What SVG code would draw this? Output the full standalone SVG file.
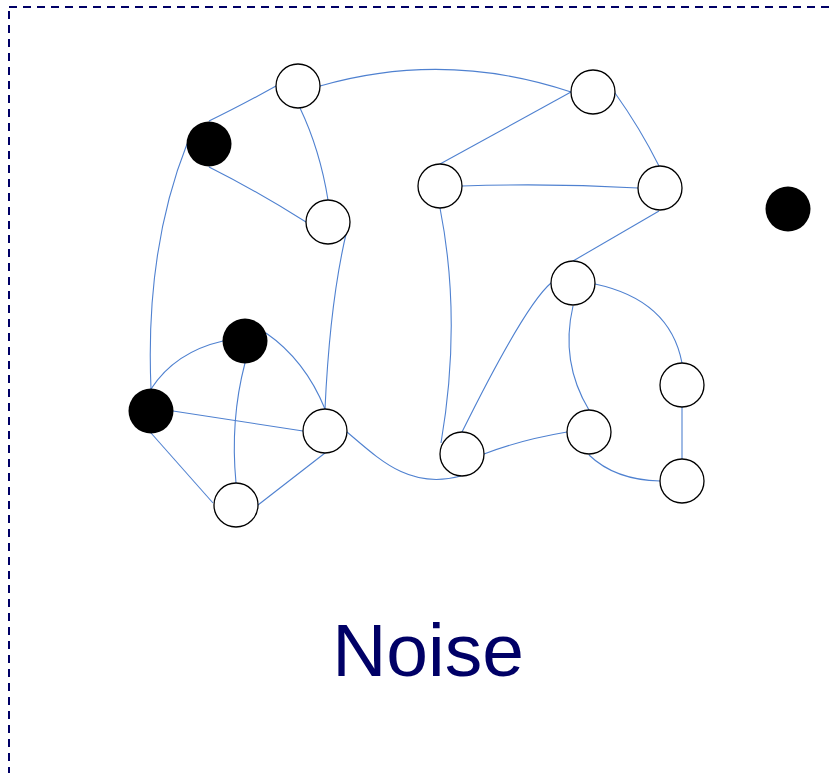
<svg xmlns="http://www.w3.org/2000/svg" width="833" height="773" viewBox="0 0 833 773">
  <style>
    .frame { fill: none; stroke: #000066; stroke-width: 2; stroke-dasharray: 8 6; }
    .edge { fill: none; stroke: #4f81d0; stroke-width: 1.1; }
    .open { fill: #ffffff; stroke: #000000; stroke-width: 1.3; }
    .solid { fill: #000000; stroke: none; }
    .label { font-family: "Liberation Sans", Arial, sans-serif; font-size: 75px; fill: #000066; text-anchor: middle; }
  </style>
  <rect width="833" height="773" fill="#ffffff"/>
  <!-- dashed boundary, open towards the right and bottom edges -->
  <rect class="frame" x="9" y="7" width="840" height="790"/>

  <g id="connectors">
    <path class="edge" d="M209,121 Q240,106 276,86"/>
    <path class="edge" d="M300,108 Q320,150 328,200"/>
    <path class="edge" d="M320,86 Q445,50 571,92"/>
    <path class="edge" d="M209,167 Q255,190 306,222"/>
    <path class="edge" d="M187,144 Q145,250 151,389"/>
    <path class="edge" d="M347,230 Q330,300 325,409"/>
    <path class="edge" d="M440,164 L571,92"/>
    <path class="edge" d="M462,186 Q550,183 638,188"/>
    <path class="edge" d="M440,208 Q462,320 441,443"/>
    <path class="edge" d="M615,93 Q640,128 659,166"/>
    <path class="edge" d="M659,211 L573,261"/>
    <path class="edge" d="M551,283 Q525,305 462,432"/>
    <path class="edge" d="M595,284 Q670,300 682,363"/>
    <path class="edge" d="M573,306 Q560,362 589,410"/>
    <path class="edge" d="M682,407 L682,459"/>
    <path class="edge" d="M589,455 Q615,480 660,481"/>
    <path class="edge" d="M567,432 Q520,440 484,454"/>
    <path class="edge" d="M347,432 C380,460 410,490 461,476"/>
    <path class="edge" d="M151,389 Q175,352 223,341"/>
    <path class="edge" d="M266,333 Q305,360 325,409"/>
    <path class="edge" d="M245,363 Q230,420 236,483"/>
    <path class="edge" d="M173,411 L303,431"/>
    <path class="edge" d="M151,433 L213,503"/>
    <path class="edge" d="M325,453 L258,505"/>
  </g>

  <g id="n-a"><circle class="open" cx="298" cy="86" r="22"/></g>
  <g id="n-b"><circle class="solid" cx="209" cy="144" r="22.5"/></g>
  <g id="n-c"><circle class="open" cx="328" cy="222" r="22"/></g>
  <g id="n-d"><circle class="open" cx="440" cy="186" r="22"/></g>
  <g id="n-e"><circle class="open" cx="593" cy="92" r="22"/></g>
  <g id="n-f"><circle class="open" cx="660" cy="188" r="22"/></g>
  <g id="n-g"><circle class="solid" cx="788" cy="209" r="22.5"/></g>
  <g id="n-h"><circle class="open" cx="573" cy="283" r="22"/></g>
  <g id="n-i"><circle class="open" cx="682" cy="385" r="22"/></g>
  <g id="n-j"><circle class="open" cx="589" cy="432" r="22"/></g>
  <g id="n-k"><circle class="open" cx="682" cy="481" r="22"/></g>
  <g id="n-l"><circle class="open" cx="462" cy="454" r="22"/></g>
  <g id="n-m"><circle class="solid" cx="245" cy="341" r="22.5"/></g>
  <g id="n-n"><circle class="solid" cx="151" cy="411" r="22.5"/></g>
  <g id="n-o"><circle class="open" cx="325" cy="431" r="22"/></g>
  <g id="n-p"><circle class="open" cx="236" cy="505" r="22"/></g>

  <text class="label" x="428" y="676">Noise</text>
</svg>
